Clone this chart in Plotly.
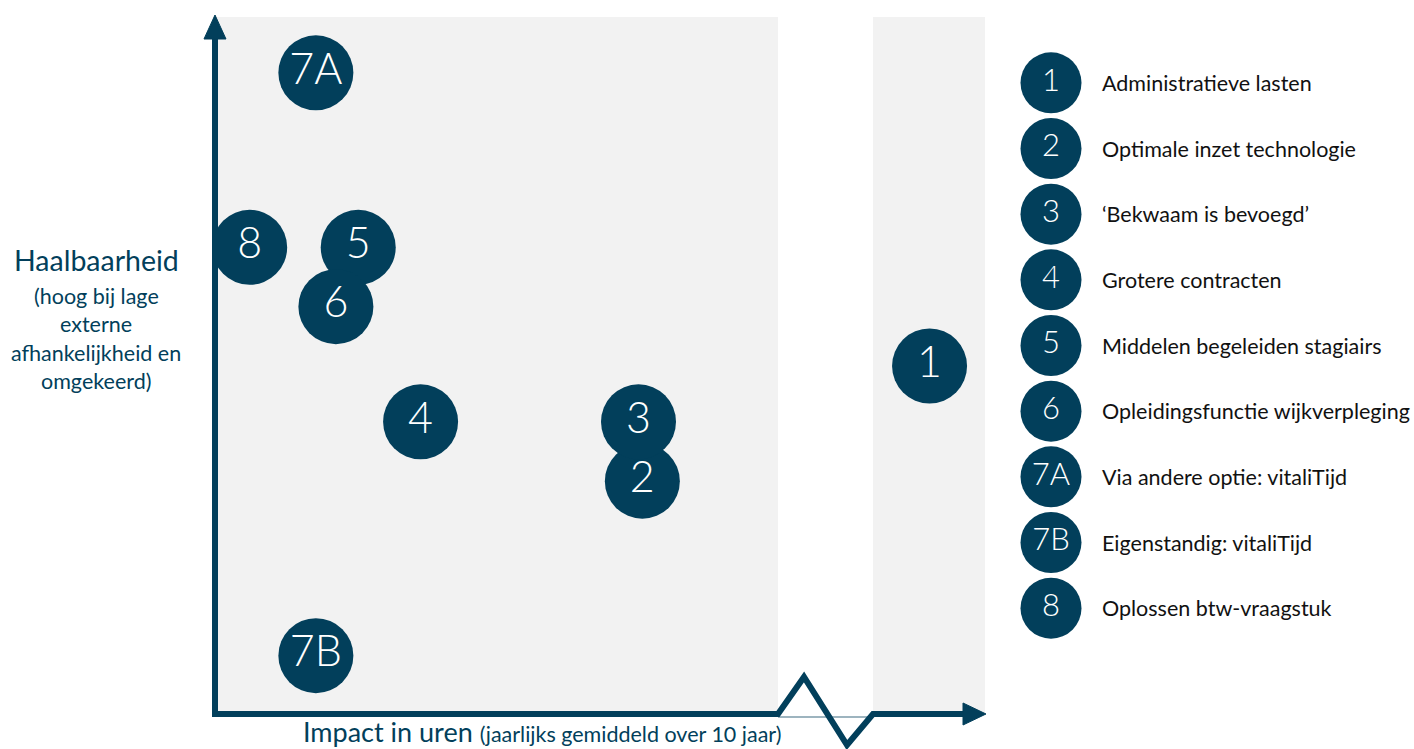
import plotly.graph_objects as go

# ---- data ----
bubble_labels = ["1", "2", "3", "4", "5", "6", "7A", "7B", "8"]
impact = [9.28, 5.55, 5.5, 2.67, 1.86, 1.57, 1.31, 1.31, 0.45]
feasibility = [5.0, 3.35, 4.2, 4.2, 6.7, 5.85, 9.2, 0.85, 6.7]

legend_keys = ["1", "2", "3", "4", "5", "6", "7A", "7B", "8"]
legend_texts = [
    "Administratieve lasten",
    "Optimale inzet technologie",
    "\u2018Bekwaam is bevoegd\u2019",
    "Grotere contracten",
    "Middelen begeleiden stagiairs",
    "Opleidingsfunctie wijkverpleging",
    "Via andere optie: vitaliTijd",
    "Eigenstandig: vitaliTijd",
    "Oplossen btw-vraagstuk",
]

W, H = 1414, 749
DARK = "#023F5B"
GREY = "#F2F2F2"
FONT = "Lato"


def px(x):
    return x / W


def py(y):
    return 1 - y / H


fig = go.Figure()

# main bubbles
fig.add_trace(go.Scatter(
    x=impact, y=feasibility, mode="markers+text", text=bubble_labels,
    textposition="middle center",
    textfont=dict(family=FONT, size=43, color="white", weight=300),
    marker=dict(size=75, color=DARK, line=dict(width=0)),
    cliponaxis=False, hoverinfo="skip", showlegend=False,
    xaxis="x", yaxis="y",
))

# legend bubbles
idx = list(range(len(legend_keys)))
fig.add_trace(go.Scatter(
    x=[0] * len(idx), y=idx, mode="markers+text", text=legend_keys,
    textposition="middle center",
    textfont=dict(family=FONT, size=31, color="white", weight=300),
    marker=dict(size=61, color=DARK, line=dict(width=0)),
    cliponaxis=False, hoverinfo="skip", showlegend=False,
    xaxis="x2", yaxis="y2",
))

annotations = []
for i, t in zip(idx, legend_texts):
    annotations.append(dict(
        x=px(1100), xref="paper", y=i, yref="y2", text=t, showarrow=False,
        xanchor="left", yanchor="middle",
        font=dict(family=FONT, size=21.5, color="#111111"),
    ))

# y title
annotations.append(dict(
    x=px(96), y=py(260), xref="paper", yref="paper", text="Haalbaarheid",
    showarrow=False, xanchor="center", yanchor="middle",
    font=dict(family=FONT, size=28.5, color=DARK),
))
for t, yy in zip(["(hoog bij lage", "externe", "afhankelijkheid en", "omgekeerd)"],
                 [296, 324, 353, 381]):
    annotations.append(dict(
        x=px(96), y=py(yy), xref="paper", yref="paper", text=t,
        showarrow=False, xanchor="center", yanchor="middle",
        font=dict(family=FONT, size=21.5, color=DARK),
    ))

# x title
annotations.append(dict(
    x=px(542), y=py(749), xref="paper", yref="paper",
    text="Impact in uren <span style='font-size:21.5px'>(jaarlijks gemiddeld over 10 jaar)</span>",
    showarrow=False, xanchor="center", yanchor="bottom", borderpad=0,
    font=dict(family=FONT, size=27, color=DARK),
))


def path(points, close=False):
    s = "M " + " L ".join(f"{px(a):.5f},{py(b):.5f}" for a, b in points)
    return s + (" Z" if close else "")


shapes = [
    # grey panels
    dict(type="rect", xref="paper", yref="paper", x0=px(216), x1=px(778),
         y0=py(714), y1=py(17), fillcolor=GREY, line=dict(width=0), layer="below"),
    dict(type="rect", xref="paper", yref="paper", x0=px(873), x1=px(985),
         y0=py(714), y1=py(17), fillcolor=GREY, line=dict(width=0), layer="below"),
    # thin baseline under the break
    dict(type="line", xref="paper", yref="paper", x0=px(778), x1=px(873),
         y0=py(717), y1=py(717), line=dict(color="#3d6b80", width=1.2), layer="below"),
    # x axis with break zigzag
    dict(type="path", xref="paper", yref="paper",
         path=path([(212, 714), (778, 714), (804, 677), (847, 745), (873, 714), (966, 714)]),
         line=dict(color=DARK, width=6), layer="below"),
    dict(type="path", xref="paper", yref="paper",
         path=path([(963, 703), (986, 714), (963, 725)], close=True),
         fillcolor=DARK, line=dict(color=DARK, width=1), layer="below"),
    # y axis
    dict(type="line", xref="paper", yref="paper", x0=px(215), x1=px(215),
         y0=py(717), y1=py(36), line=dict(color=DARK, width=6), layer="below"),
    dict(type="path", xref="paper", yref="paper",
         path=path([(204, 39), (215, 15), (226, 39)], close=True),
         fillcolor=DARK, line=dict(color=DARK, width=1), layer="below"),
]

hidden = dict(visible=False, showgrid=False, zeroline=False, fixedrange=True)

fig.update_layout(
    width=W, height=H,
    margin=dict(l=0, r=0, t=0, b=0),
    paper_bgcolor="white", plot_bgcolor="rgba(0,0,0,0)",
    xaxis=dict(domain=[px(215), px(985)], range=[0, 10], **hidden),
    yaxis=dict(domain=[py(715), py(17)], range=[0, 10], **hidden),
    xaxis2=dict(domain=[px(1021), px(1081)], range=[-1, 1], anchor="y2", **hidden),
    yaxis2=dict(domain=[py(641), py(50)], range=[8.5, -0.5], anchor="x2", **hidden),
    annotations=annotations,
    shapes=shapes,
    showlegend=False,
)

fig.write_html("out.html", post_script="document.body.style.margin='0';",
               config={"displayModeBar": False})
